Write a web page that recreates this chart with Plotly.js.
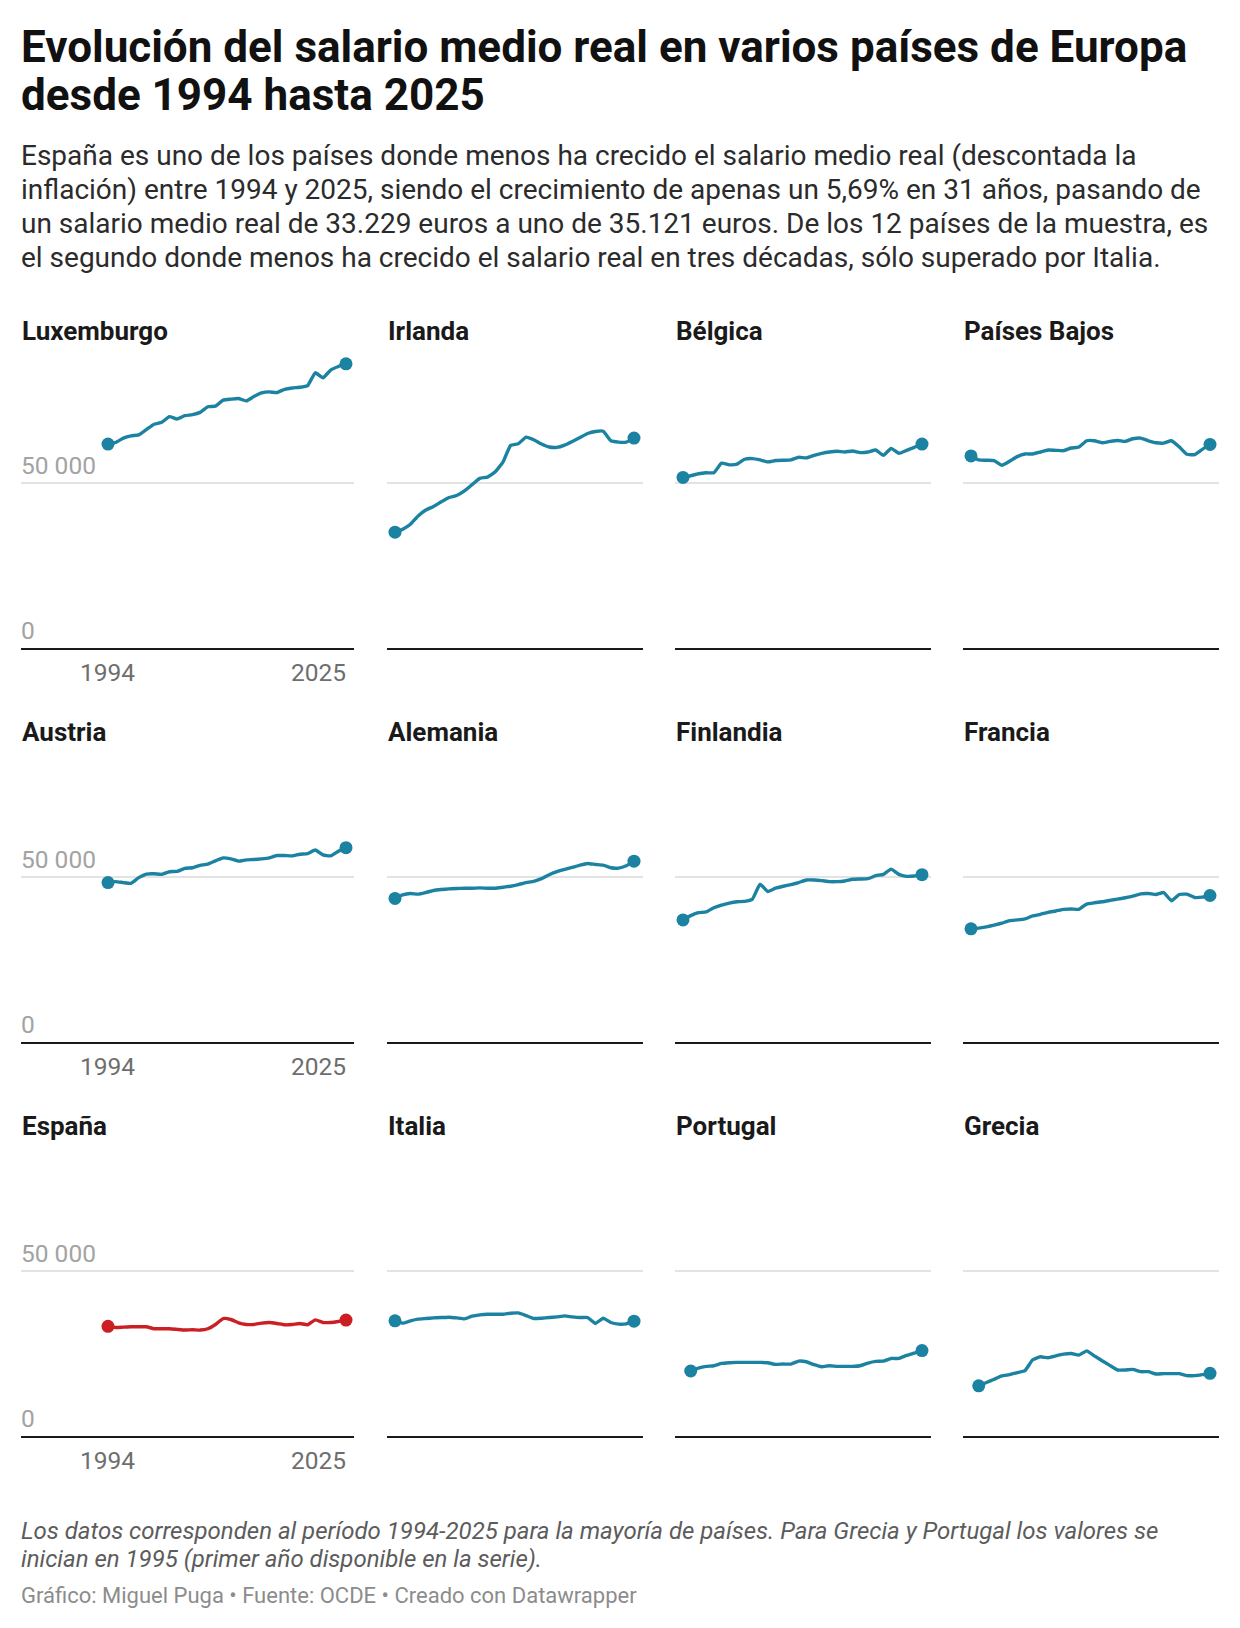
<!DOCTYPE html>
<html lang="es">
<head>
<meta charset="utf-8">
<script src="https://cdn.plot.ly/plotly-3.0.1.min.js"></script>
<style>
  html, body { margin: 0; padding: 0; background: #ffffff; }
  #chart { width: 1240px; height: 1628px; }
</style>
</head>
<body>
<div id="chart"></div>
<script>
// Años de la serie
const years1994 = [1994, 1995, 1996, 1997, 1998, 1999, 2000, 2001, 2002, 2003, 2004, 2005, 2006, 2007, 2008, 2009,
                   2010, 2011, 2012, 2013, 2014, 2015, 2016, 2017, 2018, 2019, 2020, 2021, 2022, 2023, 2024, 2025];
const years1995 = [1995, 1996, 1997, 1998, 1999, 2000, 2001, 2002, 2003, 2004, 2005, 2006, 2007, 2008, 2009,
                   2010, 2011, 2012, 2013, 2014, 2015, 2016, 2017, 2018, 2019, 2020, 2021, 2022, 2023, 2024, 2025];

// Salario medio real (euros)
const luxemburgo = [61800, 62300, 63600, 64300, 64600, 66200, 67800, 68400, 70100, 69400, 70400, 70700, 71400, 73100, 73300, 75100,
                    75400, 75600, 74900, 76200, 77300, 77600, 77400, 78400, 78800, 79000, 79500, 83400, 81900, 84200, 85300, 86100];
const irlanda = [35100, 36000, 37500, 40000, 41800, 42900, 44300, 45600, 46200, 47600, 49500, 51400, 51800, 53400, 56300, 61400,
                 61900, 63900, 63100, 61800, 60900, 60800, 61500, 62600, 63800, 65000, 65600, 65700, 62800, 62400, 62400, 63600];
const belgica = [51700, 52200, 52800, 53100, 53100, 56000, 55500, 55700, 57200, 57400, 57000, 56400, 56800, 56900, 57000, 57800,
                 57600, 58400, 59000, 59400, 59600, 59400, 59700, 59200, 59400, 60000, 58400, 60500, 59000, 59900, 60800, 61800];
const paisesBajos = [58200, 57000, 56900, 56800, 55400, 56600, 58000, 58800, 58800, 59400, 60000, 59900, 59800, 60600, 60900, 62800,
                     62800, 62200, 62600, 62900, 62600, 63400, 63600, 62800, 62200, 62100, 62800, 61000, 58700, 58600, 60200, 61700];
const austria = [48300, 48600, 48300, 48100, 49800, 50900, 51000, 50800, 51600, 51700, 52600, 52800, 53500, 53900, 54900, 55800,
                 55500, 54800, 55200, 55300, 55500, 55800, 56500, 56500, 56400, 56900, 57100, 58200, 56700, 56400, 57800, 58900];
const alemania = [43500, 44600, 45000, 44800, 45300, 45900, 46200, 46400, 46500, 46600, 46600, 46700, 46600, 46600, 46900, 47200,
                  47700, 48300, 48700, 49500, 50700, 51600, 52300, 52900, 53600, 54100, 53800, 53600, 52800, 52700, 53400, 54800];
const finlandia = [37000, 38300, 39200, 39400, 40700, 41500, 42100, 42500, 42600, 43300, 47800, 45600, 46600, 47200, 47700, 48300,
                   49100, 49100, 48900, 48600, 48600, 48800, 49300, 49400, 49500, 50400, 50800, 52400, 50800, 50200, 50300, 50700];
const francia = [34300, 34500, 34900, 35400, 36000, 36800, 37000, 37300, 38200, 38700, 39300, 39700, 40200, 40300, 40200, 41800,
                 42200, 42500, 42900, 43300, 43700, 44200, 44900, 45000, 44700, 45300, 42800, 44700, 44800, 43800, 43900, 44400];
const espana = [33229, 32900, 33000, 33100, 33100, 33100, 32500, 32500, 32500, 32300, 32100, 32200, 32100, 32500, 33800, 35600,
                35300, 34300, 33800, 33800, 34200, 34400, 34100, 33700, 33800, 34100, 33700, 35200, 34400, 34400, 34700, 35121];
const italia = [34900, 34200, 34900, 35400, 35600, 35800, 35900, 36000, 35800, 35500, 36300, 36700, 36900, 36900, 36900, 37200,
                37300, 36500, 35600, 35700, 35900, 36100, 36400, 36100, 35900, 35900, 34100, 35700, 34400, 33900, 34000, 34800];
const portugal = [19700, 20600, 21100, 21300, 22000, 22200, 22300, 22300, 22300, 22300, 22200, 21700, 21800, 21800, 22700,
                  22500, 21600, 21000, 21300, 21100, 21100, 21100, 21300, 22100, 22600, 22700, 23500, 23500, 24400, 25100, 25900];
const grecia = [15200, 16200, 17200, 18200, 18600, 19200, 19800, 23100, 24000, 23700, 24300, 24800, 25000, 24500, 25800,
                24300, 22800, 21400, 20000, 20000, 20200, 19500, 19500, 18800, 18900, 18900, 18900, 18300, 18300, 18600, 19000];

const countryNames = ['Luxemburgo', 'Irlanda', 'Bélgica', 'Países Bajos',
                      'Austria', 'Alemania', 'Finlandia', 'Francia',
                      'España', 'Italia', 'Portugal', 'Grecia'];
const countryValues = [luxemburgo, irlanda, belgica, paisesBajos,
                       austria, alemania, finlandia, francia,
                       espana, italia, portugal, grecia];
const countryYears = [years1994, years1994, years1994, years1994,
                      years1994, years1994, years1994, years1994,
                      years1994, years1994, years1995, years1995];

const yTickValues = [0, 50000];
const yTickLabels = ['0', '50 000'];
const xTickYears = [1994, 2025];

// Texts
const titleLines = ['Evolución del salario medio real en varios países de Europa',
                    'desde 1994 hasta 2025'];
const subtitleLines = ['España es uno de los países donde menos ha crecido el salario medio real (descontada la',
                       'inflación) entre 1994 y 2025, siendo el crecimiento de apenas un 5,69% en 31 años, pasando de',
                       'un salario medio real de 33.229 euros a uno de 35.121 euros. De los 12 países de la muestra, es',
                       'el segundo donde menos ha crecido el salario real en tres décadas, sólo superado por Italia.'];
const noteLines = ['Los datos corresponden al período 1994-2025 para la mayoría de países. Para Grecia y Portugal los valores se',
                   'inician en 1995 (primer año disponible en la serie).'];
const creditLine = 'Gráfico: Miguel Puga • Fuente: OCDE • Creado con Datawrapper';

// ---- Layout geometry (pixels) ----
const W = 1240, H = 1628;
const FONT = 'Roboto, "Noto Sans", sans-serif';
const BLUE = '#1c82a2';
const RED = '#cb1f24';
const colLeft = [21, 387, 675, 963];
const colRight = [354, 643, 931, 1219];
const colFirstYearPx = [108, 395, 683, 971];
const colLastYearPx = [346, 634, 922, 1210];
const rowBase = [648, 1042, 1436];
const rowTitleY = [331, 732, 1126];
const titleLineY = [47, 95.5];
const subtitleLineY = [156, 190, 223.5, 257.5];
const noteLineY = [1531, 1559];
const creditY = 1595;
const textLeft = 19;
const pxPerEuro = 165 / 50000;
const yMax = 92000;

const px2x = p => p / W;
const px2y = p => 1 - p / H;

const traces = [];
const layout = {
  width: W, height: H,
  margin: {l: 0, r: 0, t: 0, b: 0},
  paper_bgcolor: '#ffffff',
  plot_bgcolor: 'rgba(0,0,0,0)',
  showlegend: false,
  font: {family: FONT, color: '#333'},
  annotations: []
};

function textLine(txt, yPx, size, color, extra) {
  layout.annotations.push(Object.assign({
    xref: 'paper', yref: 'paper', x: px2x(textLeft), y: px2y(yPx),
    xanchor: 'left', yanchor: 'middle', align: 'left', showarrow: false,
    text: txt, font: {family: FONT, size: size, color: color}
  }, extra || {}));
}

titleLines.forEach((t, k) => textLine(t, titleLineY[k], 44, '#111111', {font: {family: FONT, size: 44, weight: 700, color: '#111111'}}));
subtitleLines.forEach((t, k) => textLine(t, subtitleLineY[k], 28, '#2b2b2b'));

countryNames.forEach((name, i) => {
  const row = Math.floor(i / 4), col = i % 4;
  const s = i === 0 ? '' : String(i + 1);
  const xa = 'xaxis' + s, ya = 'yaxis' + s;
  const ppy = (colLastYearPx[col] - colFirstYearPx[col]) / (2025 - 1994);
  const r0 = 1994 - (colFirstYearPx[col] - colLeft[col]) / ppy;
  const r1 = 2025 + (colRight[col] - colLastYearPx[col]) / ppy;
  const base = rowBase[row];
  const top = base - yMax * pxPerEuro;

  layout[xa] = {
    domain: [px2x(colLeft[col]), px2x(colRight[col])],
    range: [r0, r1], anchor: 'y' + s,
    showgrid: false, zeroline: false, showticklabels: false, ticks: '',
    showline: true, linecolor: '#1a1a1a', linewidth: 2, fixedrange: true
  };
  layout[ya] = {
    domain: [px2y(base), px2y(top)],
    range: [0, yMax], anchor: 'x' + s,
    tickmode: 'array', tickvals: yTickValues,
    showgrid: true, gridcolor: '#e3e3e3', gridwidth: 2,
    zeroline: false, showticklabels: false, ticks: '', showline: false, fixedrange: true
  };

  const vals = countryValues[i];
  const yrs = countryYears[i];
  const color = name === 'España' ? RED : BLUE;
  const sizes = vals.map((v, k) => (k === 0 || k === vals.length - 1) ? 13 : 0);
  traces.push({
    type: 'scatter', mode: 'lines+markers',
    x: yrs, y: vals, xaxis: 'x' + s, yaxis: 'y' + s,
    line: {color: color, width: 3.4, shape: 'spline', smoothing: 0.4},
    marker: {color: color, size: sizes, opacity: 1, line: {width: 0}},
    cliponaxis: false, hoverinfo: 'skip'
  });

  // panel title
  layout.annotations.push({
    xref: 'paper', yref: 'paper', x: px2x(colLeft[col] - 1), y: px2y(rowTitleY[row]),
    xanchor: 'left', yanchor: 'middle', showarrow: false, text: name,
    font: {family: FONT, size: 26, weight: 700, color: '#1a1a1a'}
  });

  if (col === 0) {
    yTickValues.forEach((v, k) => {
      layout.annotations.push({
        xref: 'paper', yref: 'y' + s, x: px2x(colLeft[col] - 2), y: v, yshift: 18,
        xanchor: 'left', yanchor: 'middle', showarrow: false, text: yTickLabels[k],
        font: {family: FONT, size: 24.5, color: '#a3a3a3'}
      });
    });
    xTickYears.forEach((yr, k) => {
      layout.annotations.push({
        xref: 'x' + s, yref: 'y' + s, x: yr, y: 0, yshift: -24, xshift: k === 0 ? -1 : 2,
        xanchor: k === 0 ? 'center' : 'right', yanchor: 'middle', showarrow: false, text: String(yr),
        font: {family: FONT, size: 24.5, color: '#6e6e6e'}
      });
    });
  }
});

noteLines.forEach((t, k) => textLine('<i>' + t + '</i>', noteLineY[k], 24, '#5c5c5c'));
textLine(creditLine, creditY, 22, '#8c8c8c');

Plotly.newPlot('chart', traces, layout, {displayModeBar: false, staticPlot: true});
</script>
</body>
</html>
